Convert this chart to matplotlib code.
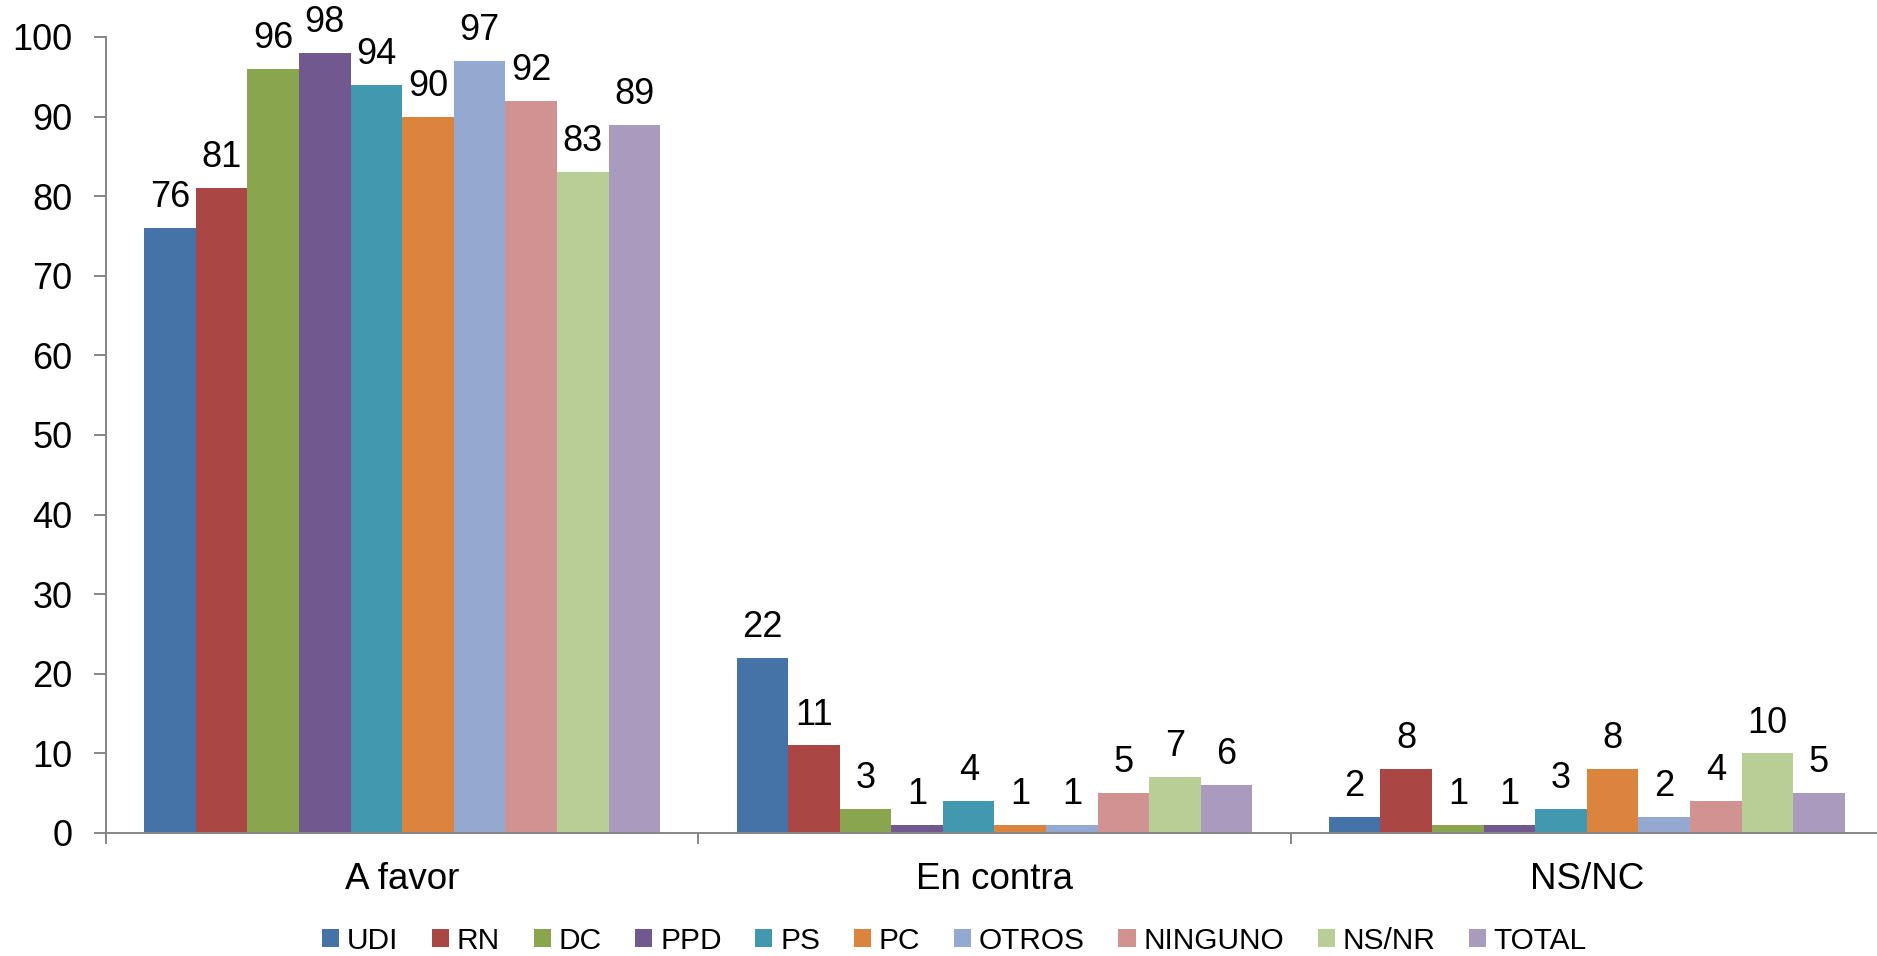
import matplotlib
matplotlib.use("Agg")
import matplotlib.pyplot as plt
import numpy as np

categories = ["A favor", "En contra", "NS/NC"]
series = ["UDI", "RN", "DC", "PPD", "PS", "PC", "OTROS", "NINGUNO", "NS/NR", "TOTAL"]
values = {
    "UDI":     [76, 22, 2],
    "RN":      [81, 11, 8],
    "DC":      [96, 3, 1],
    "PPD":     [98, 1, 1],
    "PS":      [94, 4, 3],
    "PC":      [90, 1, 8],
    "OTROS":   [97, 1, 2],
    "NINGUNO": [92, 5, 4],
    "NS/NR":   [83, 7, 10],
    "TOTAL":   [89, 6, 5],
}
colors = ["#4572A7", "#AA4643", "#89A54E", "#71588F", "#4198AF",
          "#DB843D", "#93A9CF", "#D19392", "#B9CD96", "#A99BBD"]
yticks = [0, 10, 20, 30, 40, 50, 60, 70, 80, 90, 100]

plt.rcParams['font.family'] = ['Liberation Sans', 'DejaVu Sans']

W, H = 1877, 956
fig = plt.figure(figsize=(W / 100, H / 100), dpi=100)
ax = fig.add_axes([106 / W, 1 - 833 / H, (1883 - 106) / W, (833 - 37) / H])

x = np.arange(len(categories))
bw = 51.6 / 592.5
n = len(series)
for i, (s, c) in enumerate(zip(series, colors)):
    pos = x + (i - (n - 1) / 2) * bw
    ax.bar(pos, values[s], width=bw, color=c, label=s, linewidth=0)
    for xp, v in zip(pos, values[s]):
        ax.annotate(str(v), (xp, v), xytext=(0, 15), textcoords="offset points",
                    ha="center", va="baseline", fontsize=26, color="black")

ax.set_xlim(-0.5, len(categories) - 0.5)
ax.set_ylim(0, 100)
ax.set_yticks(yticks)
ax.set_yticklabels([str(t) for t in yticks], fontsize=26)

gray = "#868686"
for side in ("top", "right"):
    ax.spines[side].set_visible(False)
for side in ("left", "bottom"):
    ax.spines[side].set_color(gray)
    ax.spines[side].set_linewidth(1.4)

ax.tick_params(axis="y", direction="out", length=8.6, width=1.4, color=gray, pad=15.5)
ax.set_xticks(np.arange(-0.5, len(categories), 1.0))
ax.set_xticklabels([])
ax.tick_params(axis="x", which="major", direction="out", length=7.7, width=1.4, color=gray)
ax.set_xticks(x, minor=True)
ax.set_xticklabels(categories, minor=True, fontsize=26.5)
ax.tick_params(axis="x", which="minor", length=0, pad=21)

handles, labels = ax.get_legend_handles_labels()
fig.legend(handles, labels, loc="center", bbox_to_anchor=(954.5 / W, 1 - 941 / H),
           ncol=10, frameon=False, fontsize=21.5, handlelength=0.57, handleheight=0.55,
           handletextpad=0.26, columnspacing=1.13, borderpad=0, borderaxespad=0)

fig.savefig("out.png", dpi=100)
